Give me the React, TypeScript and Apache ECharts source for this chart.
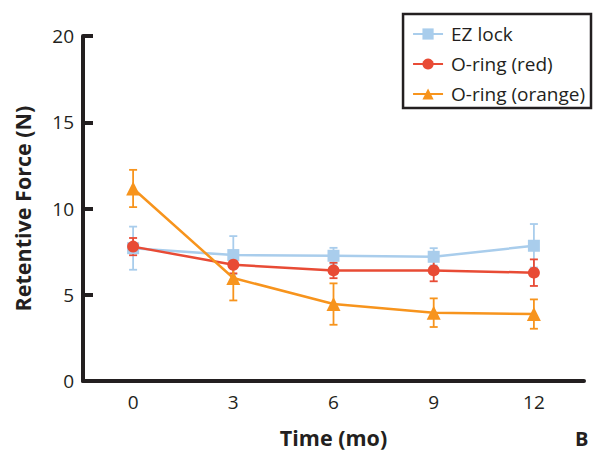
import React, { useEffect, useRef } from "react";
import * as echarts from "echarts";

const months = ["0", "3", "6", "9", "12"];
const ezLock = [7.7, 7.3, 7.26, 7.2, 7.84];
const ezLockErr = [1.25, 1.1, 0.46, 0.5, 1.26];
const oRingRed = [7.79, 6.74, 6.41, 6.41, 6.28];
const oRingRedErr = [0.5, 0.5, 0.45, 0.63, 0.77];
const oRingOrange = [11.16, 5.97, 4.46, 3.96, 3.88];
const oRingOrangeErr = [1.08, 1.3, 1.2, 0.83, 0.85];
const yTicks = [0, 5, 10, 15, 20];

const BLUE = "#a9cdec";
const RED = "#e84b35";
const ORANGE = "#f7941d";
const INK = "#231f20";
const FONT = "'Open Sans', 'Noto Sans', sans-serif";

function errorSeries(vals: number[], errs: number[], color: string) {
  return {
    type: "custom",
    silent: true,
    z: 1,
    data: vals.map((v, i) => [i, v - errs[i], v + errs[i]]),
    renderItem: (params: any, api: any) => {
      const i = api.value(0);
      const lo = api.coord([i, api.value(1)]);
      const hi = api.coord([i, api.value(2)]);
      const w = 4;
      const style = { stroke: color, lineWidth: 1.8 };
      return {
        type: "group",
        children: [
          { type: "line", shape: { x1: lo[0], y1: lo[1], x2: hi[0], y2: hi[1] }, style },
          { type: "line", shape: { x1: lo[0] - w, y1: lo[1], x2: lo[0] + w, y2: lo[1] }, style },
          { type: "line", shape: { x1: hi[0] - w, y1: hi[1], x2: hi[0] + w, y2: hi[1] }, style },
        ],
      };
    },
  };
}

export default function App() {
  const ref = useRef<HTMLDivElement>(null);
  useEffect(() => {
    if (!ref.current) return;
    const chart = echarts.init(ref.current, null, { renderer: "svg" });
    chart.setOption({
      animation: false,
      backgroundColor: "#ffffff",
      grid: { left: 83, right: 11, top: 36, bottom: 70, outerBoundsMode: "none", containLabel: false },
      legend: {
        data: ["EZ lock", "O-ring (red)", "O-ring (orange)"],
        orient: "vertical",
        right: 4,
        top: 14,
        borderColor: INK,
        borderWidth: 2.5,
        padding: [10, 6, 4, 9],
        itemGap: 10,
        itemWidth: 30,
        itemHeight: 14,
        textStyle: { fontFamily: FONT, fontSize: 19, lineHeight: 20, color: INK, padding: [0, 0, 0, 3] },
      },
      xAxis: {
        type: "category",
        data: months,
        boundaryGap: true,
        name: "Time (mo)",
        nameLocation: "middle",
        nameGap: 45,
        nameTextStyle: { fontFamily: FONT, fontSize: 21.5, fontWeight: "bold", color: INK },
        axisLine: { lineStyle: { color: INK, width: 4 } },
        axisTick: { inside: true, length: 10, lineStyle: { color: INK, width: 4 } },
        axisLabel: { fontFamily: FONT, fontSize: 19, color: INK, margin: 11 },
      },
      yAxis: {
        type: "value",
        min: 0,
        max: 20,
        interval: 5,
        name: "Retentive Force (N)",
        nameLocation: "middle",
        nameGap: 50,
        nameTextStyle: { fontFamily: FONT, fontSize: 21.5, fontWeight: "bold", color: INK },
        splitLine: { show: false },
        axisLine: { show: true, lineStyle: { color: INK, width: 4 } },
        axisTick: { show: true, inside: true, length: 10, lineStyle: { color: INK, width: 4 } },
        axisLabel: {
          fontFamily: FONT,
          fontSize: 19,
          color: INK,
          margin: 9,
          formatter: (v: number) => (yTicks.includes(v) ? String(v) : ""),
        },
      },
      graphic: [
        {
          type: "text",
          left: 575,
          top: 428,
          style: { text: "B", fontFamily: FONT, fontSize: 20, fontWeight: "bold", fill: INK },
        },
      ],
      series: [
        errorSeries(ezLock, ezLockErr, BLUE),
        errorSeries(oRingRed, oRingRedErr, RED),
        errorSeries(oRingOrange, oRingOrangeErr, ORANGE),
        {
          name: "EZ lock",
          type: "line",
          data: ezLock,
          symbol: "rect",
          symbolSize: 12,
          z: 3,
          itemStyle: { color: BLUE },
          lineStyle: { color: BLUE, width: 2.5 },
        },
        {
          name: "O-ring (red)",
          type: "line",
          data: oRingRed,
          symbol: "circle",
          symbolSize: 12,
          z: 4,
          itemStyle: { color: RED },
          lineStyle: { color: RED, width: 2.5 },
        },
        {
          name: "O-ring (orange)",
          type: "line",
          data: oRingOrange,
          symbol: "triangle",
          symbolSize: 14,
          z: 5,
          itemStyle: { color: ORANGE },
          lineStyle: { color: ORANGE, width: 2.5 },
        },
      ],
    });
    return () => chart.dispose();
  }, []);
  return <div ref={ref} style={{ width: 595, height: 451, position: "absolute", left: 0, top: 0 }} />;
}
